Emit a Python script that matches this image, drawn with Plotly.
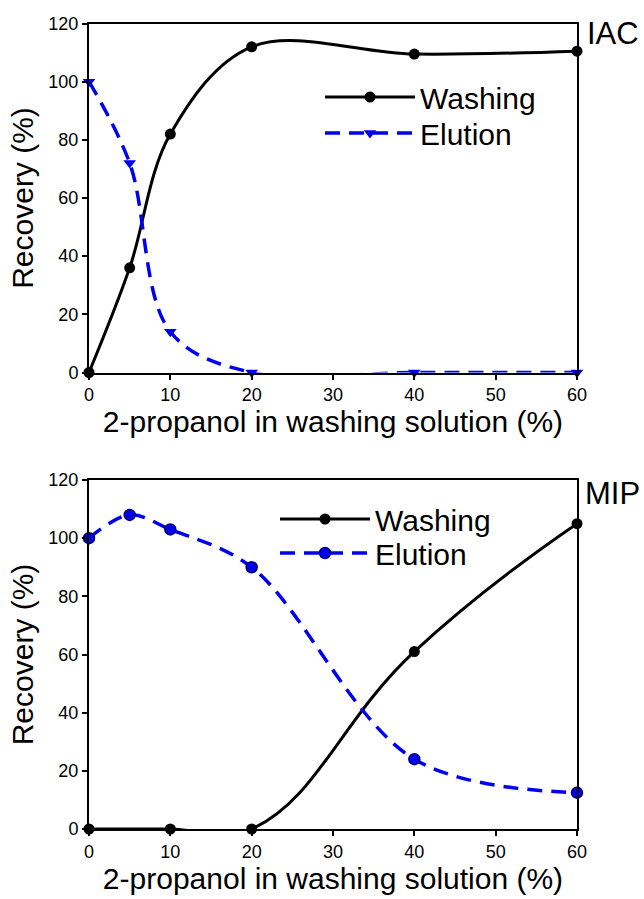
import plotly.graph_objects as go

# ---- data ----
propanol = [0, 5, 10, 20, 40, 60]

iac_washing = [0, 36, 82, 112, 109.5, 110.5]
iac_elution = [100, 72, 14, 0, 0, 0]

mip_x_washing = [0, 10, 20, 40, 60]
mip_washing = [0, 0, 0, 61, 105]
mip_elution = [100, 108, 103, 90, 24, 12.5]

x_ticks = [0, 10, 20, 30, 40, 50, 60]
y_ticks = [0, 20, 40, 60, 80, 100, 120]

panel_labels = ["IAC", "MIP"]
series_names = ["Washing", "Elution"]
x_title = "2-propanol in washing solution (%)"
y_title = "Recovery (%)"

FONT = "Liberation Sans, Arial, sans-serif"
W, H = 644, 899


def fy(px):
    return 1 - px / H


BLACK = "#000000"
BLUE = "#0000ee"
DASH = "15px,9px"

fig = go.Figure()

# top panel (IAC)
fig.add_trace(go.Scatter(
    x=propanol, y=iac_washing, name=series_names[0], mode="lines+markers",
    line=dict(color=BLACK, width=3, shape="spline", smoothing=1),
    marker=dict(symbol="circle", size=11, color=BLACK),
    xaxis="x", yaxis="y", legend="legend", cliponaxis=False))
fig.add_trace(go.Scatter(
    x=propanol, y=iac_elution, name=series_names[1], mode="lines+markers",
    line=dict(color=BLUE, width=3.5, shape="spline", smoothing=1, dash=DASH),
    marker=dict(symbol="triangle-down", size=11, color=BLUE),
    xaxis="x", yaxis="y", legend="legend2", cliponaxis=False))

# bottom panel (MIP)
fig.add_trace(go.Scatter(
    x=mip_x_washing, y=mip_washing, name=series_names[0], mode="lines+markers",
    line=dict(color=BLACK, width=3, shape="spline", smoothing=1.3),
    marker=dict(symbol="circle", size=11, color=BLACK),
    xaxis="x2", yaxis="y2", legend="legend3", cliponaxis=False))
fig.add_trace(go.Scatter(
    x=propanol, y=mip_elution, name=series_names[1], mode="lines+markers",
    line=dict(color=BLUE, width=3.5, shape="spline", smoothing=1, dash=DASH),
    marker=dict(symbol="circle", size=11, color=BLUE, line=dict(color="#00006e", width=1.5)),
    xaxis="x2", yaxis="y2", legend="legend4", cliponaxis=False))

x0, x1 = 89 / W, 577 / W
top_dom = [fy(372.5), fy(23.5)]
bot_dom = [fy(829), fy(480)]


def xaxis(anchor, standoff):
    return dict(
        domain=[x0, x1], anchor=anchor, range=[0, 60],
        tickvals=x_ticks, ticks="outside", ticklen=5, tickwidth=1.5, tickcolor=BLACK,
        showline=True, linecolor=BLACK, linewidth=2, mirror=True,
        showgrid=False, zeroline=False,
        tickfont=dict(family=FONT, size=18, color=BLACK),
        title=dict(text=x_title, font=dict(family=FONT, size=30, color=BLACK), standoff=standoff),
    )


def yaxis(domain, anchor):
    return dict(
        domain=domain, anchor=anchor, range=[0, 120],
        tickvals=y_ticks, ticks="outside", ticklen=5, tickwidth=1.5, tickcolor=BLACK,
        showline=True, linecolor=BLACK, linewidth=2, mirror=True,
        showgrid=False, zeroline=False,
        tickfont=dict(family=FONT, size=18, color=BLACK),
        title=dict(text=y_title, font=dict(family=FONT, size=30, color=BLACK), standoff=6),
    )


def leg(xpx, ypx):
    return dict(
        x=xpx / W, y=fy(ypx), xanchor="left", yanchor="middle",
        bgcolor="rgba(0,0,0,0)", borderwidth=0,
        font=dict(family=FONT, size=30, color=BLACK),
        itemwidth=90,
    )


fig.update_layout(
    width=W, height=H,
    margin=dict(l=0, r=0, t=0, b=0, autoexpand=False),
    paper_bgcolor="white", plot_bgcolor="white",
    xaxis=xaxis("y", 4),
    yaxis=yaxis(top_dom, "x"),
    xaxis2=xaxis("y2", 2),
    yaxis2=yaxis(bot_dom, "x2"),
    showlegend=True,
    legend=leg(320, 97),
    legend2=leg(320, 133),
    legend3=leg(275, 519),
    legend4=leg(275, 553),
    annotations=[
        dict(text=panel_labels[0], xref="paper", yref="paper", x=585 / W, y=fy(14),
             xanchor="left", yanchor="top", showarrow=False,
             font=dict(family=FONT, size=31, color=BLACK)),
        dict(text=panel_labels[1], xref="paper", yref="paper", x=583 / W, y=fy(474),
             xanchor="left", yanchor="top", showarrow=False,
             font=dict(family=FONT, size=31, color=BLACK)),
    ],
)

fig.write_html(
    "out.html",
    config={"displayModeBar": False},
    post_script="document.body.style.margin='0';document.body.style.overflow='hidden';",
)
